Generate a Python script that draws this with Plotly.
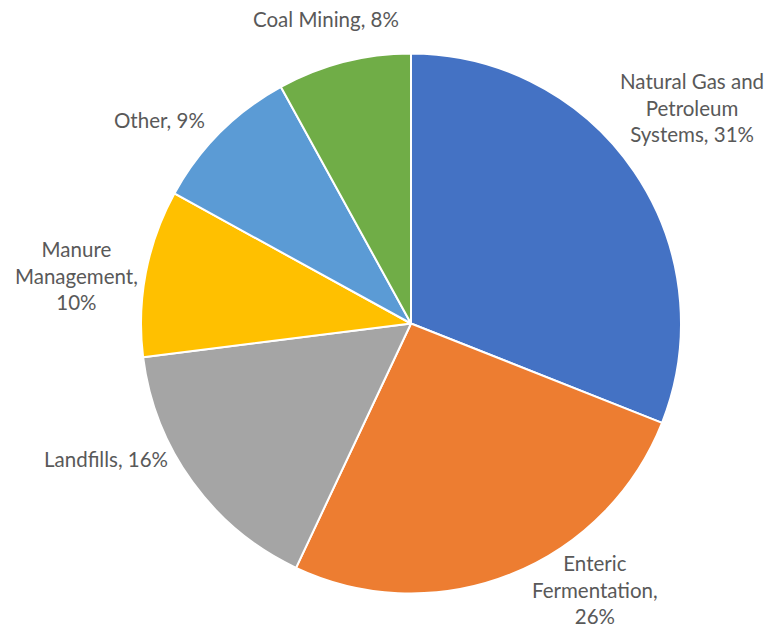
import plotly.graph_objects as go

categories = ["Natural Gas and Petroleum Systems", "Enteric Fermentation", "Landfills",
              "Manure Management", "Other", "Coal Mining"]
values = [31, 26, 16, 10, 9, 8]
label_text = ["Natural Gas and<br>Petroleum<br>Systems, 31%", "Enteric<br>Fermentation,<br>26%",
              "Landfills, 16%", "Manure<br>Management,<br>10%", "Other, 9%", "Coal Mining, 8%"]

colors = ["#4472C4", "#ED7D31", "#A5A5A5", "#FFC000", "#5B9BD5", "#70AD47"]
# label centre positions in window pixels (layout only)
label_px = [(692, 107), (595, 589), (106, 459), (76, 275), (159, 120), (326, 19)]

W, H = 774, 629
OFF = 8  # page body margin offset
def fx(px):
    return (px - OFF) / W
def fy(py):
    return 1 - (py - OFF) / H

fig = go.Figure(go.Pie(
    labels=categories, values=values, sort=False, direction="clockwise", rotation=0,
    marker=dict(colors=colors, line=dict(color="white", width=2)),
    textinfo="none", hoverinfo="label+percent", showlegend=False,
    domain=dict(x=[fx(141), fx(681)], y=[fy(594), fy(53)]),
))

for txt, (px, py) in zip(label_text, label_px):
    fig.add_annotation(x=fx(px), y=fy(py), xref="paper", yref="paper", text=txt,
                       showarrow=False, xanchor="center", yanchor="middle", align="center",
                       font=dict(family="Lato", size=20.5, color="#595959"))

fig.update_layout(width=W, height=H, margin=dict(l=0, r=0, t=0, b=0),
                  paper_bgcolor="white", plot_bgcolor="white")
fig.write_html("out.html")
